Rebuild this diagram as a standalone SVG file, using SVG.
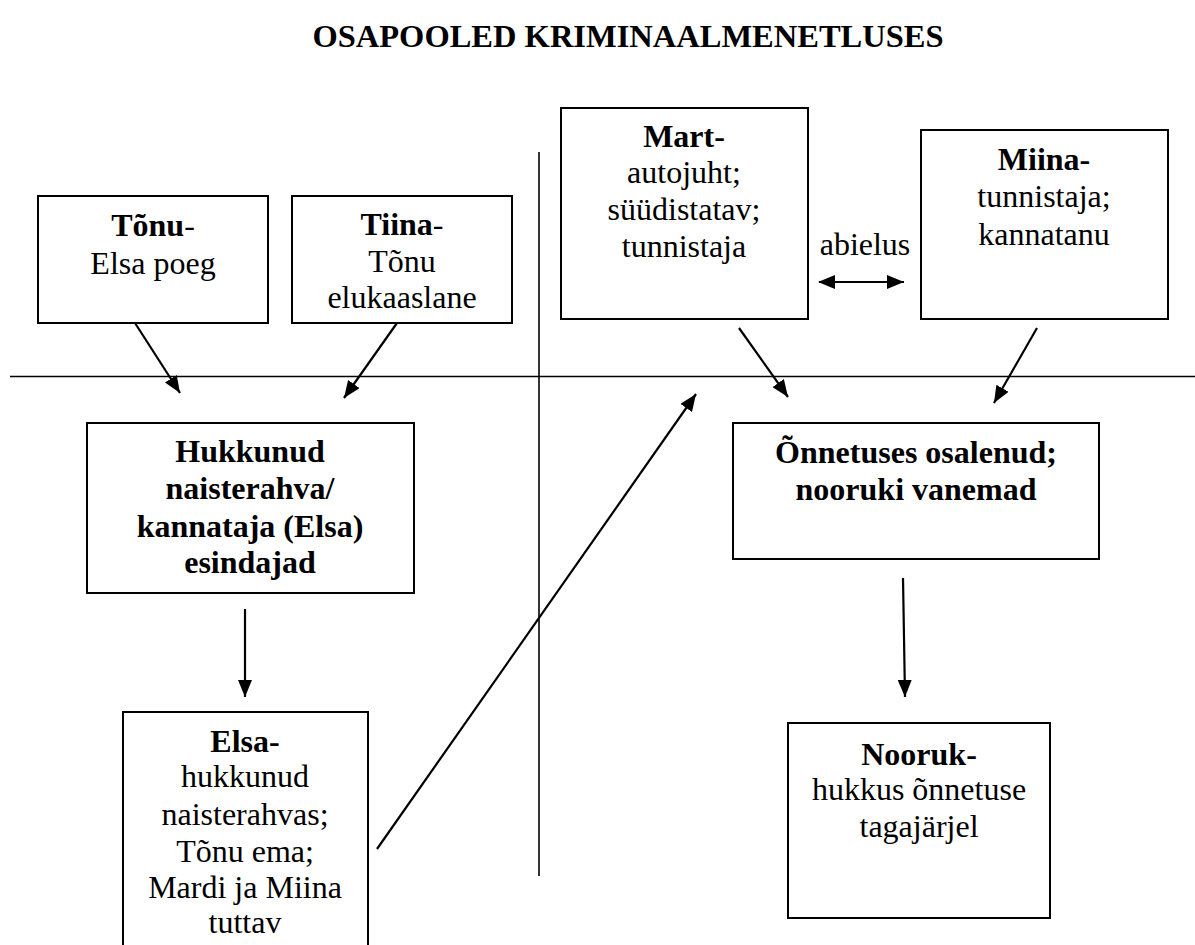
<svg xmlns="http://www.w3.org/2000/svg" width="1195" height="945" viewBox="0 0 1195 945">
<style>
.box{fill:#fff;stroke:#000;stroke-width:2}
.axis{stroke:#000;stroke-width:1.6;fill:none}
.arr{stroke:#000;stroke-width:2.2;fill:none;marker-end:url(#ah)}
</style>
<defs>
<marker id="ah" markerUnits="userSpaceOnUse" markerWidth="18" markerHeight="14" refX="17" refY="7" orient="auto">
<path d="M0,0 L17,7 L0,14 Z" fill="#000"/>
</marker>
<marker id="ahs" markerUnits="userSpaceOnUse" markerWidth="18" markerHeight="14" refX="1" refY="7" orient="auto">
<path d="M17,0 L0,7 L17,14 Z" fill="#000"/>
</marker>
</defs>
<rect width="1195" height="945" fill="#fff"/>
<g font-family="Liberation Serif, Times New Roman, serif" font-size="32" text-anchor="middle" fill="#000">
<text id="title" x="628" y="47" font-size="32.5" font-weight="bold">OSAPOOLED KRIMINAALMENETLUSES</text>

<g id="axes">
<line class="axis" x1="10" y1="376.5" x2="1195" y2="376.5"/>
<line class="axis" x1="539" y1="152" x2="539" y2="876"/>
</g>

<g id="connectors">
<line class="arr" x1="135" y1="323" x2="180" y2="393"/>
<line class="arr" x1="397" y1="323" x2="344" y2="398"/>
<line class="arr" x1="739" y1="328" x2="788" y2="397"/>
<line class="arr" x1="1037" y1="328" x2="994" y2="403"/>
<line class="arr" x1="245" y1="609" x2="245" y2="697"/>
<line class="arr" x1="903" y1="578" x2="905" y2="697"/>
<line class="arr" x1="377" y1="849" x2="696" y2="394"/>
<line stroke="#000" stroke-width="2.2" x1="819" y1="282" x2="904" y2="282" marker-start="url(#ahs)" marker-end="url(#ah)"/>
<text x="865" y="255">abielus</text>
</g>

<g id="tonu">
<rect class="box" x="38" y="196" width="230" height="127"/>
<text x="153" y="236"><tspan font-weight="bold">Tõnu</tspan>-</text>
<text x="153" y="274">Elsa poeg</text>
</g>

<g id="tiina">
<rect class="box" x="292" y="196" width="220" height="127"/>
<text x="402" y="235"><tspan font-weight="bold">Tiina</tspan>-</text>
<text x="402" y="272">Tõnu</text>
<text x="402" y="308">elukaaslane</text>
</g>

<g id="mart">
<rect class="box" x="561" y="108" width="247" height="211"/>
<text x="684" y="147" font-weight="bold">Mart-</text>
<text x="684" y="183">autojuht;</text>
<text x="684" y="220">süüdistatav;</text>
<text x="684" y="257">tunnistaja</text>
</g>

<g id="miina">
<rect class="box" x="921" y="130" width="247" height="189"/>
<text x="1044" y="170" font-weight="bold">Miina-</text>
<text x="1044" y="207">tunnistaja;</text>
<text x="1044" y="245">kannatanu</text>
</g>

<g id="hukkunud" font-weight="bold">
<rect class="box" x="87" y="423" width="327" height="170"/>
<text x="250" y="462">Hukkunud</text>
<text x="250" y="499">naisterahva/</text>
<text x="250" y="537">kannataja (Elsa)</text>
<text x="250" y="573">esindajad</text>
</g>

<g id="onnetuses" font-weight="bold">
<rect class="box" x="733" y="423" width="366" height="136"/>
<text x="916" y="463">Õnnetuses osalenud;</text>
<text x="916" y="500">nooruki vanemad</text>
</g>

<g id="elsa">
<path class="box" d="M123,950 L123,712 L368,712 L368,950"/>
<text x="245" y="752" font-weight="bold">Elsa-</text>
<text x="245" y="787">hukkunud</text>
<text x="245" y="825">naisterahvas;</text>
<text x="245" y="862">Tõnu ema;</text>
<text x="245" y="898">Mardi ja Miina</text>
<text x="245" y="933">tuttav</text>
</g>

<g id="nooruk">
<rect class="box" x="788" y="723" width="262" height="195"/>
<text x="919" y="765" font-weight="bold">Nooruk-</text>
<text x="919" y="800">hukkus õnnetuse</text>
<text x="919" y="837">tagajärjel</text>
</g>
</g>
</svg>
